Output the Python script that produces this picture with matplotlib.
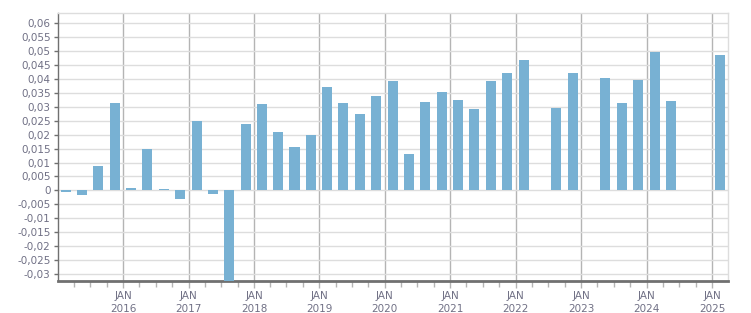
"""
Quarterly values, 2015 Q1 - 2025 Q1, drawn as a bar chart on a date axis.
"""

import datetime as dt

import matplotlib
matplotlib.use("Agg")
import matplotlib.pyplot as plt
import matplotlib.dates as mdates
import matplotlib.ticker as mticker
import numpy as np

# quarter labels (year, quarter) and values; NaN where no bar is shown
years = [2015] * 4 + [2016] * 4 + [2017] * 4 + [2018] * 4 + [2019] * 4 + \
        [2020] * 4 + [2021] * 4 + [2022] * 4 + [2023] * 4 + [2024] * 4 + [2025]
quarters = [1, 2, 3, 4] * 10 + [1]
values = [
    -0.0006, -0.0016, 0.0087, 0.0314,   # 2015
    0.0008, 0.0148, 0.0004, -0.0031,    # 2016
    0.0250, -0.0011, -0.0400, 0.0238,   # 2017
    0.0310, 0.0209, 0.0155, 0.0198,     # 2018
    0.0372, 0.0314, 0.0274, 0.0339,     # 2019
    0.0393, 0.0130, 0.0318, 0.0354,     # 2020
    0.0325, 0.0292, 0.0393, 0.0419,     # 2021
    0.0466, np.nan, 0.0296, 0.0422,     # 2022
    np.nan, 0.0404, 0.0314, 0.0397,     # 2023
    0.0494, 0.0321, np.nan, np.nan,     # 2024
    0.0484,                             # 2025
]
label_years = list(range(2016, 2026))

BAR_COLOR = "#78b1d3"
TEXT_COLOR = "#707085"
GRID_LIGHT = "#dddddd"
GRID_DARK = "#b4b4b4"
AXIS_COLOR = "#707070"

# bars sit at the middle of each quarter
centers = [dt.date(y, 3 * q - 1, 15) for y, q in zip(years, quarters)]

fig = plt.figure(figsize=(7.51, 3.13), dpi=100)
ax = fig.add_axes([0.0768, 0.1022, 0.8926, 0.8553])

ax.bar(centers, values, width=56, color=BAR_COLOR, zorder=3)

ax.set_xlim(dt.date(2015, 1, 1), dt.date(2025, 3, 31))
ax.set_ylim(-0.0324, 0.0634)

# y axis
ax.yaxis.set_major_locator(mticker.MultipleLocator(0.005))
ax.yaxis.set_major_formatter(mticker.FuncFormatter(
    lambda v, _: "0" if abs(v) < 1e-9 else f"{round(v, 4):g}".replace(".", ",")))
ax.grid(axis="y", color=GRID_LIGHT, linewidth=1, zorder=0)

# x axis: January majors (2016 on), quarter minors
ax.xaxis.set_major_locator(mticker.FixedLocator(
    [mdates.date2num(dt.date(y, 1, 1)) for y in label_years]))
ax.xaxis.set_minor_locator(mdates.MonthLocator(bymonth=[4, 7, 10]))
ax.xaxis.set_major_formatter(mdates.DateFormatter("JAN\n%Y"))
ax.grid(axis="x", which="major", color=GRID_DARK, linewidth=1, zorder=1)

ax.tick_params(axis="y", labelsize=7.5, colors=TEXT_COLOR, length=3, width=1,
               color=AXIS_COLOR, pad=2)
ax.tick_params(axis="x", which="major", labelsize=7.5, colors=TEXT_COLOR,
               length=5, width=1, color=GRID_DARK, pad=2)
ax.tick_params(axis="x", which="minor", length=4, width=1, color=GRID_DARK)
for lab in ax.get_xticklabels():
    lab.set_linespacing(1.45)

for side in ("top", "right"):
    ax.spines[side].set_color(GRID_LIGHT)
    ax.spines[side].set_linewidth(1)
ax.spines["left"].set_color(AXIS_COLOR)
ax.spines["left"].set_linewidth(1)
ax.spines["bottom"].set_color(AXIS_COLOR)
ax.spines["bottom"].set_linewidth(2)
ax.set_axisbelow(True)

fig.savefig("out.png", dpi=100)
